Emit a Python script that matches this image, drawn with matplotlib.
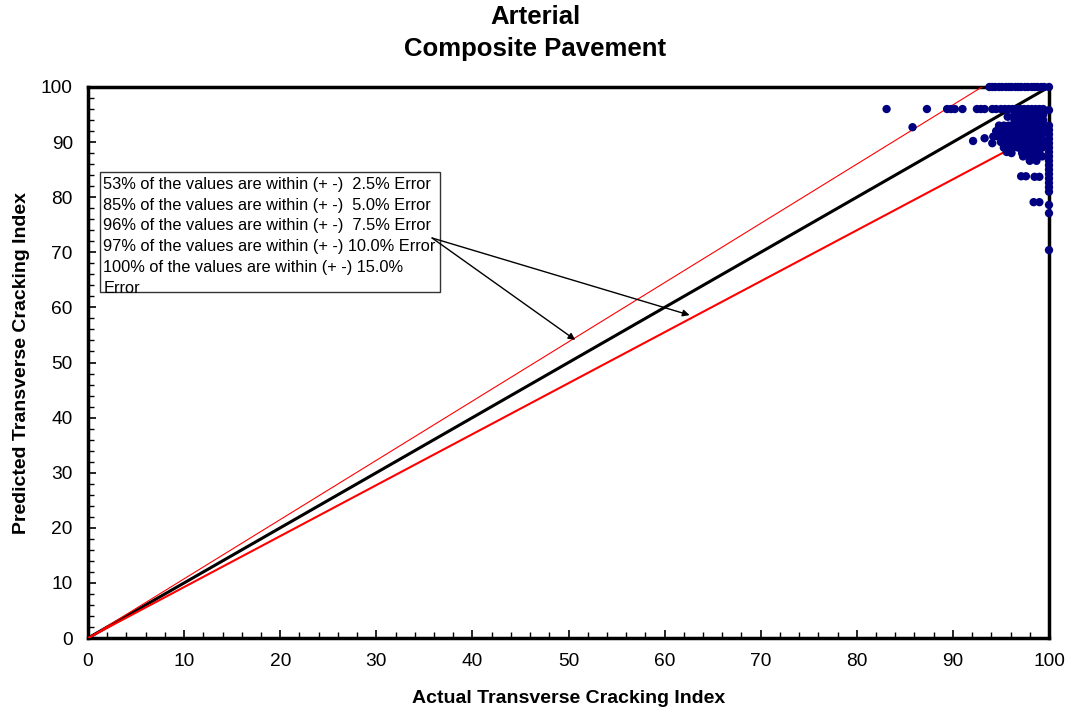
import matplotlib.pyplot as plt
from matplotlib.patches import Rectangle
from matplotlib.ticker import MultipleLocator

plt.rcParams['font.family'] = ['Liberation Sans', 'DejaVu Sans']

# measured (actual) vs predicted transverse cracking index, read row by row
actual = [
    # y = 100 row
    93.8, 94.1, 94.4, 94.8, 95.1, 95.5, 95.8, 96.1, 96.5, 96.8, 97.1, 97.5, 97.8, 98.2, 98.5, 98.8, 99.2, 99.5, 100,
    # y ~ 96 row
    83.1, 87.3, 89.4, 89.8, 90.2, 91.0, 92.5, 92.9, 93.3, 94.1, 94.5, 95.0, 95.4, 95.8, 96.2, 96.6, 97.0, 97.4, 97.8, 98.2, 98.6, 99.0, 99.4,
    85.8,
    # y ~ 95
    96.4, 96.9, 97.4, 97.9, 98.4, 98.9, 99.4,
    # y ~ 94
    95.7, 96.4, 96.9, 97.4, 97.9, 98.4, 98.9, 99.4,
    # y ~ 93
    94.8, 95.3, 95.8, 96.3, 96.8, 97.3, 97.8, 98.3, 98.8, 99.3,
    # y ~ 92
    94.5, 95.0, 95.5, 96.0, 96.5, 97.0, 97.5, 98.0, 98.5, 99.0, 99.5,
    # y ~ 91
    94.2, 94.7, 95.2, 95.7, 96.2, 96.7, 97.2, 97.7, 98.2, 98.7, 99.2,
    # y ~ 90
    92.1, 93.3, 94.1, 95.0, 95.5, 96.0, 96.5, 97.0, 97.5, 98.0, 98.5, 99.0, 99.5,
    # y ~ 89
    95.3, 95.8, 96.3, 96.8, 97.3, 97.8, 98.3, 98.8, 99.3,
    # y ~ 88
    95.6, 96.1, 97.2, 97.8, 98.4, 99.0,
    # y ~ 87
    97.3, 98.0, 98.7, 99.3,
    98.0, 98.7,
    97.1, 97.6, 98.5, 99.0,
    98.4, 99.0,
    # x = 100 column
    100, 100, 100, 100, 100, 100, 100, 100, 100, 100, 100, 100, 100, 100, 100, 100, 100, 100, 100, 100,
]
predicted = [
    100, 100, 100, 100, 100, 100, 100, 100, 100, 100, 100, 100, 100, 100, 100, 100, 100, 100, 100,
    96.0, 96.0, 96.0, 96.0, 96.0, 96.0, 96.0, 96.0, 96.0, 96.0, 96.0, 96.0, 96.0, 96.0, 96.0, 96.0, 96.0, 96.0, 96.0, 96.0, 96.0, 96.0, 96.0,
    92.7,
    95.0, 95.0, 95.0, 95.0, 95.0, 95.0, 95.0,
    94.6, 94.0, 94.0, 94.0, 94.0, 94.0, 94.0, 94.0,
    93.0, 93.0, 93.0, 93.0, 93.0, 93.0, 93.0, 93.0, 93.0, 93.0,
    92.0, 92.0, 92.0, 92.0, 92.0, 92.0, 92.0, 92.0, 92.0, 92.0, 92.0,
    91.0, 91.0, 91.0, 91.0, 91.0, 91.0, 91.0, 91.0, 91.0, 91.0, 91.0,
    90.2, 90.7, 89.8, 90.0, 90.0, 90.0, 90.0, 90.0, 90.0, 90.0, 90.0, 90.0, 90.0,
    89.0, 89.0, 89.0, 89.0, 89.0, 89.0, 89.0, 89.0, 89.0,
    88.2, 88.0, 88.0, 88.0, 88.0, 88.0,
    87.4, 87.4, 87.4, 87.4,
    86.6, 86.6,
    83.8, 83.8, 83.7, 83.7,
    79.1, 79.1,
    95.8, 93.0, 92.2, 91.4, 90.6, 89.8, 89.0, 88.2, 87.4, 86.6, 85.8, 85.0, 84.2, 83.4, 82.6, 81.8, 81.0, 78.6, 77.1, 70.4,
]

box_lines = [
    "53% of the values are within (+ -)  2.5% Error",
    "85% of the values are within (+ -)  5.0% Error",
    "96% of the values are within (+ -)  7.5% Error",
    "97% of the values are within (+ -) 10.0% Error",
    "100% of the values are within (+ -) 15.0%",
    "Error",
]

fig = plt.figure(figsize=(10.75, 7.16), dpi=100)
ax = fig.add_axes([0.0819, 0.1089, 0.8939, 0.7696])

# equality line and the +/- 7.5% band
ax.plot([0, 100], [0, 100], color="black", lw=2.2, zorder=3)
ax.plot([0, 100 / 1.075], [0, 100], color="red", lw=0.8, zorder=3)
ax.plot([0, 100], [0, 92.5], color="red", lw=1.5, zorder=3)

ax.scatter(actual, predicted, s=36, color="#000080", edgecolors="none", zorder=4, clip_on=False)

ax.set_xlim(0, 100)
ax.set_ylim(0, 100)
ax.xaxis.set_major_locator(MultipleLocator(10))
ax.yaxis.set_major_locator(MultipleLocator(10))
ax.xaxis.set_minor_locator(MultipleLocator(2))
ax.yaxis.set_minor_locator(MultipleLocator(2))
ax.tick_params(which="major", direction="in", length=6, width=1.2, labelsize=13.8, top=False, right=False)
ax.tick_params(which="minor", direction="in", length=4, width=1.0, top=False, right=False)
ax.tick_params(axis="x", pad=11)
ax.tick_params(axis="y", pad=11)
for s in ax.spines.values():
    s.set_linewidth(2.5)
    s.set_zorder(2)

ax.set_xlabel("Actual Transverse Cracking Index", fontsize=14, fontweight="bold", labelpad=14)
ax.set_ylabel("Predicted Transverse Cracking Index", fontsize=14, fontweight="bold", labelpad=8)
fig.suptitle("Arterial\nComposite Pavement", fontsize=18.5, fontweight="bold", y=0.993, x=0.498,
             linespacing=1.4)

# annotation box
rect = Rectangle((1.25, 62.8), 35.35, 21.8, facecolor="white", edgecolor="#333333", lw=1.0, zorder=5)
ax.add_patch(rect)
txt = ax.text(1.6, 83.7, "\n".join(box_lines), fontsize=11.8, va="top", ha="left",
              linespacing=1.48, zorder=6)
txt.set_clip_path(rect)

for tip in [(50.7, 54.1), (62.6, 58.6)]:
    ax.annotate("", xy=tip, xytext=(35.8, 72.6),
                arrowprops=dict(arrowstyle="-|>", color="black", lw=1.0,
                                mutation_scale=10, shrinkA=0, shrinkB=0),
                zorder=7)

fig.savefig("out.png", dpi=100)
